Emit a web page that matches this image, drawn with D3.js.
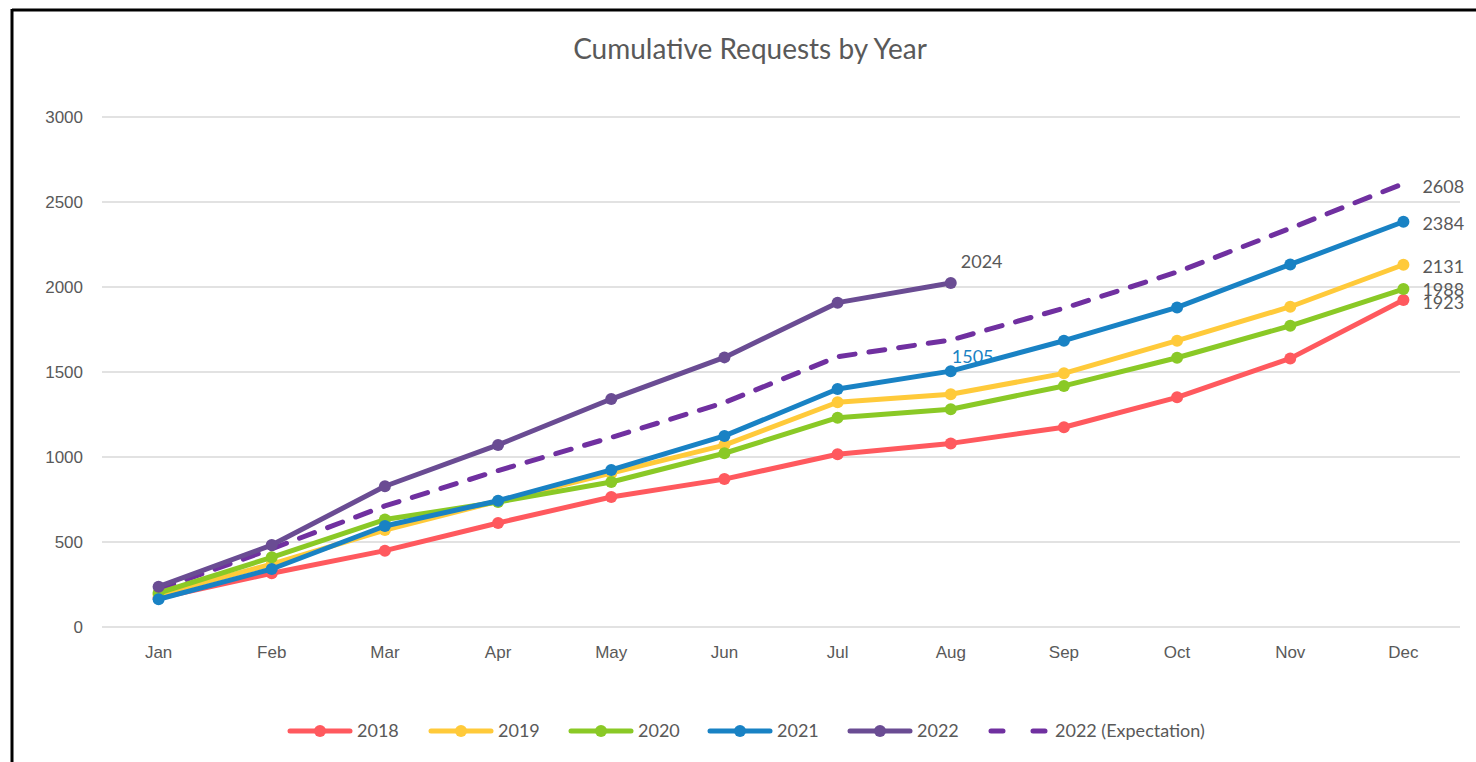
<!DOCTYPE html>
<html>
<head>
<meta charset="utf-8">
<script src="https://cdn.jsdelivr.net/npm/d3@7"></script>
<style>
  body { margin: 0; background: #fff; }
  svg { display: block; font-family: Lato, "Open Sans", sans-serif; }
</style>
</head>
<body>
<div id="chart"></div>
<script>
// data
var months = ["Jan", "Feb", "Mar", "Apr", "May", "Jun", "Jul", "Aug", "Sep", "Oct", "Nov", "Dec"];
var yTicks = [0, 500, 1000, 1500, 2000, 2500, 3000];
var v2018 = [170, 316, 449, 612, 765, 870, 1016, 1080, 1175, 1351, 1580, 1923];
var v2019 = [190, 370, 570, 740, 905, 1070, 1322, 1369, 1492, 1684, 1884, 2131];
var v2020 = [200, 410, 632, 735, 853, 1022, 1231, 1281, 1418, 1584, 1772, 1988];
var v2021 = [163, 341, 594, 743, 924, 1124, 1400, 1505, 1684, 1880, 2133, 2384];
var v2022 = [237, 482, 828, 1071, 1341, 1586, 1908, 2024];
var v2022exp = [220, 460, 712, 920, 1115, 1320, 1590, 1688, 1875, 2088, 2345, 2608];

var series = [
    {name: "2018", values: v2018, color: "#ff595e", marker: true},
    {name: "2019", values: v2019, color: "#ffca3a", marker: true},
    {name: "2020", values: v2020, color: "#8ac926", marker: true},
    {name: "2021", values: v2021, color: "#1982c4", marker: true},
    {name: "2022", values: v2022, color: "#6a4c93", marker: true},
    {name: "2022 (Expectation)", values: v2022exp, color: "#7030a0", marker: false, dash: "16,14"}
];

var W = 1476, H = 762;
var textColor = "#595959";

var svg = d3.select("#chart").append("svg")
    .attr("width", W)
    .attr("height", H);

// frame (only top and left are visible in the picture)
svg.append("line").attr("x1", 12).attr("x2", W).attr("y1", 10).attr("y2", 10)
    .attr("stroke", "#000").attr("stroke-width", 3);
svg.append("line").attr("x1", 12).attr("x2", 12).attr("y1", 9).attr("y2", H)
    .attr("stroke", "#000").attr("stroke-width", 3);

svg.append("text")
    .attr("x", 750).attr("y", 59)
    .attr("text-anchor", "middle")
    .attr("fill", textColor)
    .style("font-size", "28px")
    .text("Cumulative Requests by Year");

var x = d3.scaleBand()
    .domain(months)
    .range([102, 1460]);

var y = d3.scaleLinear()
    .domain([0, 3000])
    .range([627, 117]);

function cx(i) { return x(months[i]) + x.bandwidth() / 2; }

// gridlines
svg.append("g")
    .selectAll("line")
    .data(yTicks)
    .enter().append("line")
    .attr("x1", 102).attr("x2", 1460)
    .attr("y1", function(d) { return y(d); })
    .attr("y2", function(d) { return y(d); })
    .attr("stroke", "#d9d9d9")
    .attr("stroke-width", 1.5);

// y axis
var yAxis = svg.append("g")
    .attr("transform", "translate(102,0)")
    .call(d3.axisLeft(y).tickValues(yTicks).tickFormat(d3.format("d")).tickSize(0).tickPadding(19));
yAxis.select(".domain").remove();
yAxis.selectAll("text").attr("fill", textColor).style("font-size", "17px");

// x axis
var xAxis = svg.append("g")
    .attr("transform", "translate(0,627)")
    .call(d3.axisBottom(x).tickSize(0).tickPadding(19));
xAxis.select(".domain").remove();
xAxis.selectAll("text").attr("fill", textColor).style("font-size", "17px");

var line = d3.line()
    .x(function(d, i) { return cx(i); })
    .y(function(d) { return y(d); });

// dashed expectation goes under the solid lines
var drawOrder = [5, 0, 1, 2, 3, 4];
drawOrder.forEach(function(k) {
    var s = series[k];
    var g = svg.append("g").attr("class", "series");
    g.append("path")
        .attr("d", line(s.values))
        .attr("fill", "none")
        .attr("stroke", s.color)
        .attr("stroke-width", 5)
        .attr("stroke-linecap", "round")
        .attr("stroke-linejoin", "round")
        .attr("stroke-dasharray", s.dash || null);
    if (s.marker) {
        g.selectAll("circle")
            .data(s.values)
            .enter().append("circle")
            .attr("cx", function(d, i) { return cx(i); })
            .attr("cy", function(d) { return y(d); })
            .attr("r", 6)
            .attr("fill", s.color);
    }
});

// data labels at the end of each line
var endLabels = [
    {s: 5, dy: 3},
    {s: 3, dy: 2},
    {s: 1, dy: 2},
    {s: 2, dy: 1},
    {s: 0, dy: 3}
];
endLabels.forEach(function(l) {
    var vals = series[l.s].values;
    var i = vals.length - 1;
    svg.append("text")
        .attr("x", cx(i) + 19)
        .attr("y", y(vals[i]) + l.dy)
        .attr("dy", "0.35em")
        .attr("fill", textColor)
        .style("font-size", "18px")
        .text(vals[i]);
});

svg.append("text")
    .attr("x", cx(v2022.length - 1) + 10)
    .attr("y", y(v2022[v2022.length - 1]) - 21)
    .attr("dy", "0.35em")
    .attr("fill", textColor)
    .style("font-size", "18px")
    .text(v2022[v2022.length - 1]);

// blue 1505 label, drawn under the blue line in the picture
svg.insert("text", "g.series")
    .attr("x", cx(7) + 1)
    .attr("y", y(v2021[7]) - 14)
    .attr("dy", "0.35em")
    .attr("fill", "#1982c4")
    .style("font-size", "18px")
    .text(v2021[7]);

// legend
var legendX = [290, 431, 571, 710, 850, 988];
var legend = svg.append("g");
series.forEach(function(s, k) {
    var lx = legendX[k];
    var gy = 731;
    if (s.dash) {
        legend.append("line")
            .attr("x1", lx + 3).attr("x2", lx + 57)
            .attr("y1", gy).attr("y2", gy)
            .attr("stroke", s.color)
            .attr("stroke-width", 5)
            .attr("stroke-linecap", "round")
            .attr("stroke-dasharray", "12,30");
    } else {
        legend.append("line")
            .attr("x1", lx).attr("x2", lx + 60)
            .attr("y1", gy).attr("y2", gy)
            .attr("stroke", s.color)
            .attr("stroke-width", 5)
            .attr("stroke-linecap", "round");
        legend.append("circle")
            .attr("cx", lx + 30).attr("cy", gy)
            .attr("r", 6)
            .attr("fill", s.color);
    }
    legend.append("text")
        .attr("x", lx + 67)
        .attr("y", gy)
        .attr("dy", "0.35em")
        .attr("fill", textColor)
        .style("font-size", "18px")
        .text(s.name);
});
</script>
</body>
</html>
